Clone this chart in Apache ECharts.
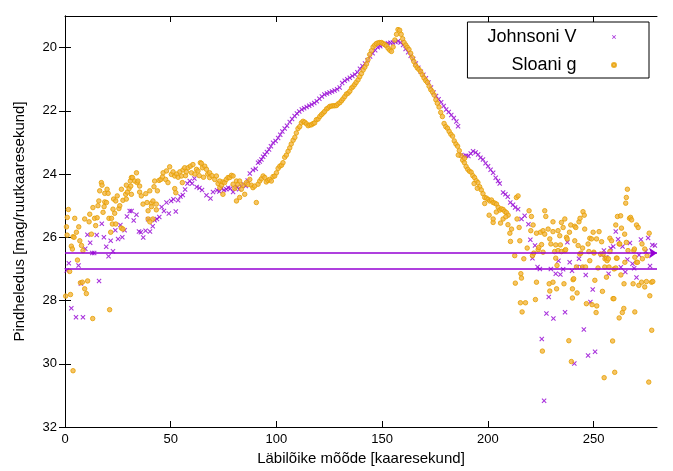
<!DOCTYPE html>
<html>
<head>
<meta charset="utf-8">
<script src="https://cdn.jsdelivr.net/npm/echarts@6/dist/echarts.min.js"></script>
<style>
  html, body { margin: 0; padding: 0; background: #fff; }
  #chart { width: 673px; height: 471px; }
</style>
</head>
<body>
<div id="chart"></div>
<script>
// Surface brightness profile along the cut: [distance in arcsec, mag/arcsec^2]
const seriesNames = ['Johnsoni V', 'Sloani g'];

const johnsonV = [
  [0.8,27.05],[1.8,26.82],[3.0,28.24],[5.2,28.53],[6.4,26.89],[7.5,27.46],[8.5,28.53],[9.6,26.36],
  [10.6,25.92],[11.9,26.17],[12.9,26.50],[13.8,26.50],[15.0,25.93],[16.1,27.38],[17.4,25.57],[18.4,26.00],
  [19.5,26.30],[20.6,26.60],[21.6,26.11],[22.7,26.44],[23.8,25.78],[25.1,26.05],[26.2,25.61],[27.1,26.00],
  [28.2,25.78],[29.3,25.34],[30.6,25.17],[31.5,25.17],[32.5,25.47],[33.8,25.29],[35.0,25.82],[35.9,25.84],
  [37.0,26.01],[38.1,25.79],[39.3,25.43],[40.2,25.82],[41.5,25.65],[42.4,25.46],[43.5,25.42],[44.6,25.36],
  [45.7,25.04],[46.8,25.17],[48.0,24.90],[49.1,25.25],[50.2,24.85],[51.3,24.80],[52.4,25.18],[53.5,24.83],
  [54.6,24.71],[55.7,24.66],[56.8,24.49],[57.9,24.30],[59.0,24.22],[60.1,24.30],[61.2,24.14],[62.3,24.41],
  [63.6,24.44],[64.8,24.50],[66.9,24.67],[68.8,24.77],[70.0,24.57],[71.9,24.51],[73.0,24.55],[74.0,24.46],
  [75.2,24.50],[76.3,24.48],[77.2,24.43],[78.2,24.46],[79.5,24.57],[80.4,24.45],[81.4,24.41],[82.4,24.48],
  [83.4,24.38],[84.5,24.32],[85.5,24.38],[86.4,24.20],[87.4,23.98],[88.9,23.87],[90.2,23.83],[91.3,23.64],
  [92.1,23.60],[92.9,23.54],[93.7,23.45],[94.5,23.38],[95.5,23.30],[96.5,23.22],[97.4,23.12],[98.4,23.01],
  [99.6,22.95],[100.8,22.86],[101.8,22.76],[102.8,22.65],[103.9,22.56],[105.0,22.47],[106.3,22.35],[107.4,22.26],
  [108.6,22.16],[109.7,22.08],[110.8,22.02],[112.0,21.96],[113.1,21.92],[114.3,21.88],[115.5,21.84],[116.7,21.80],
  [117.9,21.75],[119.1,21.70],[120.3,21.62],[121.5,21.55],[122.7,21.48],[123.9,21.45],[125.1,21.42],[126.3,21.39],
  [127.5,21.36],[128.7,21.32],[129.9,21.26],[131.1,21.12],[132.3,21.05],[133.5,21.00],[134.7,20.95],[135.9,20.90],
  [137.1,20.85],[138.3,20.78],[139.5,20.67],[140.7,20.58],[141.9,20.50],[143.1,20.40],[144.3,20.28],[145.5,20.18],
  [146.7,20.08],[147.9,19.99],[149.1,19.96],[150.3,19.92],[151.5,19.89],[152.7,19.86],[153.9,19.85],[155.1,19.84],
  [156.3,19.82],[157.5,19.80],[158.7,19.84],[159.9,19.92],[161.1,20.04],[162.3,20.15],[163.5,20.26],[164.7,20.36],
  [165.9,20.50],[167.1,20.64],[168.3,20.76],[169.5,20.86],[170.7,20.97],[171.9,21.10],[173.1,21.26],[174.3,21.42],
  [175.5,21.53],[176.7,21.63],[177.9,21.73],[179.1,21.85],[180.3,21.96],[181.5,22.04],[182.7,22.13],[183.9,22.23],
  [185.1,22.34],[185.9,22.49],
  [187.5,23.40],[188.5,23.43],[189.7,23.42],[190.8,23.43],[191.9,23.35],[193.0,23.28],[194.2,23.32],[195.4,23.38],
  [196.5,23.48],[197.7,23.54],[198.9,23.66],[200.1,23.75],[201.3,23.86],[202.5,23.96],[203.7,24.12],[204.8,24.22],
  [205.6,24.30],[207.2,24.58],[208.3,24.64],[209.4,24.72],[210.6,24.90],[211.9,24.97],[212.9,25.06],[214.3,25.11],
  [215.9,25.42],[217.4,25.32],[219.2,25.59],
  [220.1,26.08],[221.1,26.66],[222.3,26.26],[223.5,26.94],[224.6,27.00],[225.5,29.22],[226.6,31.17],[227.7,28.41],
  [228.8,27.89],[229.8,27.00],[231.0,28.57],[232.1,27.15],[233.4,26.74],[234.3,27.18],[235.6,27.01],[236.5,28.37],
  [237.6,26.16],[238.7,26.79],[239.8,27.06],[240.9,29.99],[242.1,26.94],[243.1,26.68],[244.3,26.95],[245.4,28.92],
  [246.3,27.19],[247.4,29.74],[248.5,28.05],[249.6,27.65],[250.7,29.62],[253.8,26.56],[254.9,26.42],[256.0,26.63],
  [257.1,27.15],[258.1,26.35],[259.3,26.29],[260.5,25.82],[261.6,26.06],[262.9,26.95],[263.7,26.29],[265.0,27.10],
  [266.0,26.70],[267.2,26.18],[268.4,26.84],[269.2,26.98],[270.3,27.27],[271.5,26.56],[272.4,26.07],[274.7,26.45],
  [275.8,26.02],[276.7,26.91],[277.8,26.24],[279.0,26.26]
];

const sloanG = [
  // inner scatter
  [0.3,27.86],[0.7,25.67],[1.0,25.93],[1.1,25.37],[1.6,25.12],[2.2,27.08],[2.6,27.81],[3.0,26.28],
  [3.5,26.37],[3.8,25.98],[3.8,30.22],[4.3,26.00],[4.6,25.40],[5.4,25.84],[5.9,26.72],[6.5,25.67],
  [7.0,26.11],[7.3,27.44],[7.8,26.26],[8.2,27.42],[8.5,26.42],[9.3,27.63],[9.3,25.42],[10.1,27.78],
  [10.7,27.38],[11.4,25.51],[11.7,25.27],[12.5,25.90],[13.1,28.57],[13.2,25.06],[14.0,25.40],[14.5,25.63],
  [15.2,25.38],[15.6,25.00],[16.0,24.85],[16.4,24.53],[17.2,24.27],[17.5,24.35],[18.0,25.21],[18.5,25.03],
  [18.8,24.88],[18.8,24.61],[19.6,24.90],[19.9,24.48],[20.4,24.61],[20.8,25.40],[21.1,28.29],[21.6,25.84],
  [22.0,25.40],[22.4,25.58],[22.7,25.11],[23.0,24.79],[23.5,25.24],[24.0,25.58],[24.0,24.85],[24.7,24.69],
  [25.5,25.09],[25.9,25.00],[26.7,25.71],[26.7,24.48],[27.4,25.74],[27.4,24.83],[28.7,24.64],[29.0,24.79],
  [29.0,24.35],[29.5,24.57],[30.3,24.46],[30.9,24.22],[31.1,24.38],[31.4,24.64],[31.4,24.11],[31.9,24.11],
  [33.0,24.22],[33.8,23.96],[34.1,24.27],[34.5,24.22],[35.3,24.38],[35.3,24.57],[36.1,24.69],[36.9,24.95],
  [38.2,24.62],[38.8,24.90],[39.3,25.16],[39.3,25.42],[40.1,24.53],[40.1,25.51],[40.9,24.92],[40.9,25.03],
  [41.6,24.85],[41.6,25.42],[42.1,24.40],[42.4,24.22],[43.2,25.13],[43.2,24.95],[43.7,24.53],[44.5,24.20],
  [45.3,24.17],[46.1,24.09],[46.4,23.96],[47.6,24.17],[48.0,23.90],[48.7,24.27],[49.5,23.77],[50.3,24.01],
  [51.1,23.93],[51.9,24.06],[51.9,24.46],[52.4,24.59],[52.8,24.00],[53.5,24.10],[54.3,23.93],[55.1,24.06],
  [55.5,24.27],[55.8,23.87],[56.6,23.80],[57.0,24.05],[57.4,23.93],[58.2,23.80],[59.3,23.75],[59.8,23.96],
  [60.5,23.70],[61.4,24.00],[62.2,23.85],[62.9,23.90],[63.5,24.05],[64.0,23.64],[64.5,23.66],[65.0,23.80],
  [65.5,24.10],[66.1,23.75],[66.9,23.85],[67.5,24.00],[68.4,23.96],[68.4,24.11],[69.5,24.05],[70.8,24.17],
  [71.6,24.06],[72.4,24.30],[73.2,24.22],[73.2,24.43],[74.0,24.35],[74.7,24.25],[74.7,24.64],[75.5,24.27],
  [76.3,24.17],[77.1,24.11],[77.9,24.11],[78.7,24.04],[79.5,24.06],[79.5,24.32],[80.3,24.45],[81.1,24.22],
  [81.1,24.85],[81.8,24.32],[82.6,24.74],[82.6,24.22],[83.4,24.48],[84.2,24.35],[85.0,24.64],[85.8,24.27],
  [86.6,24.33],[87.4,24.17],[88.1,24.35],[88.9,24.43],[89.7,24.38],[90.5,24.90],[91.3,24.32],[92.1,24.22],
  [92.9,24.15],[93.7,24.06],[94.5,24.11],[95.2,24.25],[96.0,24.20],[96.8,24.17],
  // main ridge
  [97.6,24.22],[98.4,24.08],[99.2,24.06],[100.0,23.96],[100.8,23.82],[101.6,23.75],[102.4,23.72],[103.1,23.64],
  [103.9,23.47],[104.7,23.40],[105.5,23.28],[106.3,23.17],[107.0,23.05],[107.9,22.93],[108.7,22.84],[109.4,22.70],
  [110.2,22.56],[111.0,22.50],[111.8,22.38],[112.6,22.33],[113.4,22.36],[114.2,22.41],[115.0,22.47],[115.8,22.45],
  [116.6,22.44],[117.4,22.40],[118.1,22.38],[118.9,22.28],[119.7,22.26],[120.5,22.18],[121.3,22.12],[122.1,22.07],
  [122.8,22.02],[123.7,21.94],[124.4,21.91],[125.2,21.86],[126.0,21.85],[126.8,21.84],[127.6,21.84],[128.4,21.83],
  [129.1,21.78],[130.0,21.74],[130.8,21.68],[131.5,21.62],[132.3,21.55],[133.1,21.47],[133.9,21.44],[134.7,21.38],
  [135.5,21.28],[136.2,21.24],[137.0,21.17],[137.7,21.10],[138.6,21.02],[139.4,20.92],[140.2,20.82],[141.0,20.71],
  [141.8,20.62],[142.6,20.52],[143.3,20.38],[144.1,20.22],[144.9,20.10],[145.7,19.98],[146.5,19.92],[147.3,19.87],
  [148.1,19.85],[148.9,19.84],[149.7,19.84],[150.4,19.87],[151.2,19.90],[152.0,19.94],[152.8,20.02],[153.6,20.08],
  [154.4,20.12],[155.2,19.98],[156.0,19.76],[156.8,19.58],[157.5,19.43],[158.3,19.45],[159.0,19.58],[159.7,19.72],
  [160.4,19.84],[161.2,19.92],[161.9,19.99],[162.7,20.06],[163.5,20.18],[164.3,20.32],[165.0,20.44],[165.8,20.56],
  [166.6,20.64],[167.4,20.69],[168.2,20.76],[169.0,20.86],[169.8,20.96],[170.6,21.04],[171.4,21.10],[172.2,21.22],
  [173.0,21.33],[173.8,21.40],[174.6,21.50],[175.4,21.65],[176.1,21.76],[176.9,21.88],[177.7,22.05],[178.5,22.18],
  [179.3,22.40],[180.1,22.50],[180.9,22.55],[181.7,22.65],[182.5,22.74],[183.3,22.80],[184.1,22.95],[184.9,23.05],
  [185.7,23.12],[186.5,23.26],[187.3,23.42],[188.1,23.56],[188.9,23.64],[189.7,23.76],[190.5,23.85],[191.3,23.91],
  [192.1,23.94],[192.9,24.05],[193.7,24.11],[194.5,24.21],[195.3,24.27],[196.1,24.40],[196.9,24.50],[197.7,24.62],
  [198.5,24.74],[199.3,24.76],[200.1,24.80],[200.9,24.85],[201.7,24.82],[202.5,24.90],[203.3,24.92],[204.1,24.95],
  [204.9,25.05],[205.6,25.14],[206.4,25.10],[207.2,25.12],[208.0,25.18],[208.8,25.22],[209.6,25.30],
  [186.0,23.40],[189.0,23.50],[193.5,24.30],[195.0,24.45],[198.5,24.93],[200.6,25.30],[202.5,25.53],[202.5,25.42],
  [204.0,25.20],[206.0,25.55],[207.2,25.42],[208.5,25.35],[209.5,25.60],
  // outer scatter
  [210.4,25.87],[210.7,26.13],[211.2,25.74],[212.7,26.58],[213.0,27.45],[213.5,24.74],[213.8,25.42],[214.3,24.69],
  [214.8,25.69],[215.1,26.11],[215.4,28.07],[215.6,27.15],[215.9,27.29],[216.2,28.36],[217.0,26.68],[217.8,28.07],
  [218.6,26.34],[219.5,25.16],[220.3,25.79],[220.6,25.34],[221.1,26.58],[221.4,25.61],[221.7,26.50],[222.5,27.97],
  [223.0,25.87],[223.0,27.42],[223.8,26.39],[224.1,26.32],[224.9,25.84],[225.4,26.23],[225.8,29.60],[226.1,25.79],
  [226.1,26.47],[226.9,25.16],[226.9,25.90],[227.4,25.34],[228.5,25.74],[229.0,27.47],[229.3,26.05],[229.3,27.70],
  [229.8,26.21],[230.8,25.51],[230.8,27.42],[230.8,25.82],[231.6,26.45],[232.1,26.24],[232.1,26.66],[232.5,27.63],
  [232.7,26.89],[233.2,25.79],[233.2,26.42],[234.0,25.95],[234.3,26.24],[234.8,25.53],[234.8,26.45],[235.6,25.69],
  [236.0,27.47],[236.4,25.42],[236.4,26.42],[236.8,26.39],[237.2,26.00],[237.5,26.05],[238.3,29.27],[238.6,25.84],
  [239.2,25.61],[239.5,29.93],[240.0,27.63],[240.0,27.92],[240.3,27.34],[240.6,27.31],[241.1,26.11],[241.1,25.65],
  [241.6,25.69],[241.9,26.94],[242.2,27.76],[242.7,26.26],[243.1,25.51],[243.5,26.53],[243.6,25.40],[244.0,26.50],
  [244.8,26.34],[244.8,26.94],[245.0,25.19],[245.6,25.30],[245.8,25.74],[246.2,26.94],[246.6,28.10],[247.4,26.21],
  [247.8,26.45],[248.2,26.74],[248.2,26.03],[249.0,26.05],[249.3,28.13],[249.8,25.84],[250.1,26.47],[250.2,26.50],
  [250.6,27.36],[251.2,28.38],[251.4,26.05],[251.5,28.17],[252.1,26.97],[252.6,25.82],[253.3,26.53],[253.8,26.14],
  [254.2,27.71],[254.5,26.53],[255.0,30.44],[255.3,26.94],[255.4,26.68],[256.1,26.66],[256.1,27.26],[256.4,26.74],
  [257.0,26.68],[257.3,26.94],[257.7,26.03],[257.7,26.45],[258.5,26.11],[259.0,29.28],[259.2,27.94],[259.6,27.94],
  [259.7,27.00],[260.0,30.27],[260.5,25.61],[260.5,26.97],[260.8,26.66],[261.1,26.66],[261.3,25.34],[262.1,26.21],
  [262.1,28.55],[262.4,26.21],[262.8,25.32],[262.9,27.19],[263.2,25.71],[263.6,28.38],[264.3,28.25],[264.4,27.47],
  [264.7,25.90],[264.8,26.79],[265.2,24.92],[265.5,24.74],[265.5,26.16],[266.0,24.48],[266.3,26.42],[267.0,25.40],
  [267.5,25.37],[268.0,25.45],[268.7,27.47],[269.0,26.42],[269.3,26.37],[269.5,26.63],[269.5,28.36],[270.3,25.61],
  [270.3,26.79],[270.8,26.79],[271.1,25.69],[271.4,27.52],[272.7,27.42],[272.9,26.21],[273.1,26.68],[274.2,26.37],
  [274.2,27.57],[275.0,27.40],[275.3,26.58],[276.1,30.58],[276.3,25.87],[276.6,27.85],[277.4,27.42],[277.5,28.94],
  [278.0,27.40]
];

// Reference levels drawn as horizontal lines across the plot
const refLevels = [26.5, 27.0];

// Axis extents and tick positions
const xRange = [0, 280];
const yRange = [19, 32];
const xTicks = [0, 50, 100, 150, 200, 250];
const yTicks = [20, 22, 24, 26, 28, 30, 32];

const FONT = '"Liberation Sans", Arial, Helvetica, sans-serif';
const PURPLE = '#9400d3';
const ORANGE = '#e69f00';
const CROSS = 'path://M0,1.5L1.5,0L5,3.5L8.5,0L10,1.5L6.5,5L10,8.5L8.5,10L5,6.5L1.5,10L0,8.5L3.5,5Z';

const chart = echarts.init(document.getElementById('chart'), null, { renderer: 'canvas' });

const axisLineStyle = { show: true, lineStyle: { color: '#000', width: 1 } };
const tickStyle = { show: true, inside: true, length: 6, lineStyle: { color: '#000', width: 1 } };

chart.setOption({
  animation: false,
  backgroundColor: '#fff',
  grid: { left: 65, right: 16, top: 16, bottom: 42, containLabel: false },
  legend: {
    orient: 'vertical',
    right: 24,
    top: 22,
    align: 'right',
    padding: [6, 32, 4, 20],
    itemGap: 10,
    itemWidth: 65,
    itemHeight: 4,
    borderColor: '#000',
    borderWidth: 1,
    borderRadius: 0,
    symbolKeepAspect: true,
    textStyle: { fontFamily: FONT, fontSize: 18, color: '#000', lineHeight: 18 },
    data: [
      { name: seriesNames[0], icon: CROSS },
      { name: seriesNames[1], icon: 'circle' }
    ]
  },
  xAxis: [
    {
      type: 'value', position: 'bottom', min: xRange[0], max: xRange[1],
      name: 'Läbilõike mõõde [kaaresekund]', nameLocation: 'middle', nameGap: 24,
      nameTextStyle: { fontFamily: FONT, fontSize: 15, color: '#000' },
      axisLine: axisLineStyle,
      axisTick: Object.assign({ customValues: xTicks }, tickStyle),
      axisLabel: { customValues: xTicks, margin: 6, fontFamily: FONT, fontSize: 13, color: '#000' },
      splitLine: { show: false }
    },
    {
      type: 'value', position: 'top', min: xRange[0], max: xRange[1],
      axisLine: axisLineStyle,
      axisTick: Object.assign({ customValues: xTicks }, tickStyle),
      axisLabel: { show: false },
      splitLine: { show: false }
    }
  ],
  yAxis: [
    {
      type: 'value', position: 'left', min: yRange[0], max: yRange[1], inverse: true,
      name: 'Pindheledus [mag/ruutkaaresekund]', nameLocation: 'middle', nameGap: 38,
      nameTextStyle: { fontFamily: FONT, fontSize: 15, color: '#000' },
      axisLine: axisLineStyle,
      axisTick: Object.assign({ customValues: yTicks }, tickStyle),
      axisLabel: { customValues: yTicks, margin: 8, fontFamily: FONT, fontSize: 13, color: '#000' },
      splitLine: { show: false }
    },
    {
      type: 'value', position: 'right', min: yRange[0], max: yRange[1], inverse: true,
      axisLine: axisLineStyle,
      axisTick: Object.assign({ customValues: yTicks }, tickStyle),
      axisLabel: { show: false },
      splitLine: { show: false }
    }
  ],
  series: [
    {
      name: seriesNames[0],
      type: 'scatter',
      xAxisIndex: 0, yAxisIndex: 0,
      symbol: CROSS,
      symbolSize: 5,
      itemStyle: { color: PURPLE },
      data: johnsonV,
      z: 2
    },
    {
      name: seriesNames[1],
      type: 'scatter',
      xAxisIndex: 0, yAxisIndex: 0,
      symbol: 'circle',
      symbolSize: 4.5,
      itemStyle: { color: '#f2b540', borderColor: ORANGE, borderWidth: 1 },
      data: sloanG,
      z: 3,
      markLine: {
        silent: true,
        animation: false,
        symbol: ['none', 'none'],
        symbolSize: 8,
        label: { show: false },
        emphasis: { disabled: true },
        lineStyle: { color: PURPLE, width: 1.5, type: 'solid' },
        data: [
          [
            { coord: [xRange[0], refLevels[0]], symbol: 'none' },
            { coord: [xRange[1], refLevels[0]], symbol: 'arrow', symbolSize: 8 }
          ],
          [
            { coord: [xRange[0], refLevels[1]], symbol: 'none' },
            { coord: [xRange[1], refLevels[1]], symbol: 'none' }
          ]
        ]
      }
    }
  ]
});
</script>
</body>
</html>
